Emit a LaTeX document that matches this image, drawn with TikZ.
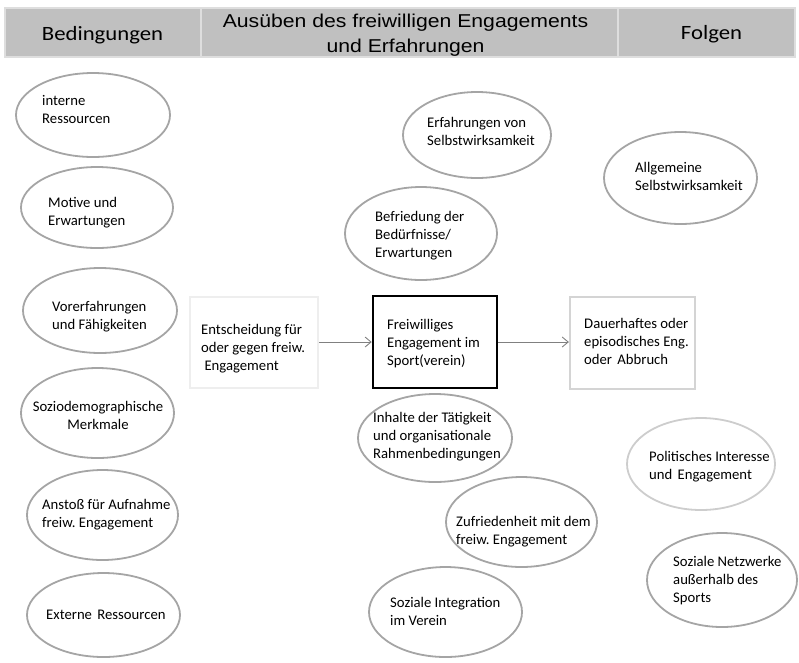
\documentclass[tikz,border=0pt]{standalone}
\usepackage{fontspec}
\setmainfont{Carlito}
\newfontfamily\arialf{Liberation Sans}
\usetikzlibrary{arrows.meta,shapes.geometric}
\frenchspacing
\definecolor{hdrfill}{RGB}{192,192,192}
\definecolor{hdrline}{RGB}{222,222,222}
\definecolor{ellline}{RGB}{165,165,165}
\definecolor{elllight}{RGB}{205,205,205}
\definecolor{boxlight}{RGB}{238,238,238}
\definecolor{boxmid}{RGB}{212,212,212}
\definecolor{arrcol}{RGB}{128,128,128}
\newcommand{\txl}[1]{\begin{tabular}[t]{@{}l@{}}#1\end{tabular}}
\newcommand{\txc}[1]{\begin{tabular}[t]{@{}c@{}}#1\end{tabular}}
\tikzset{
  ell/.style={ellipse, draw=ellline, line width=1.8pt, inner sep=0pt},
  lbl/.style={inner sep=0pt, anchor=base west, font=\fontsize{14.7}{18}\selectfont},
  hdr/.style={inner sep=0pt, anchor=base},
  conn/.style={draw=arrcol, line width=0.9pt, -{Straight Barb[length=6pt,width=10pt,line width=0.9pt]}}
}
\newcommand{\ellnode}[6][ellline]{%
  \node[ell, draw=#1, minimum width=#5*2pt, minimum height=#6*2pt] (#2) at (#3,#4) {};}
\begin{document}
\begin{tikzpicture}[x=1pt,y=-1pt]
\useasboundingbox (0,0) rectangle (799,662);
% header
\node[draw=hdrline, fill=hdrfill, line width=2pt, minimum width=790pt, minimum height=49pt, inner sep=0pt] (hdr) at (400,32.5) {};
\coordinate (d1t) at (201,9); \coordinate (d1b) at (201,56);
\coordinate (d2t) at (618,9); \coordinate (d2b) at (618,56);
\draw[hdrline, line width=2.5pt] (d1t) -- (d1b);
\draw[hdrline, line width=2.5pt] (d2t) -- (d2b);
\node[hdr] (hb) at (102.5,40) {\scalebox{1.12}[1]{\fontsize{20.3}{24}\selectfont Bedingungen}};
\node[hdr] (hm) at (405.5,27) {\scalebox{1.14}[1]{\fontsize{18.6}{25}\selectfont\arialf\txc{Ausüben des freiwilligen Engagements\\ und Erfahrungen}}};
\node[hdr] (hf) at (711.5,39) {\scalebox{1.12}[1]{\fontsize{20.3}{24}\selectfont Folgen}};
% left column ellipses
\ellnode{e1}{93}{115}{77}{42}
\ellnode{e2}{97}{207.5}{76}{40.5}
\ellnode{e3}{100}{310.5}{77}{42.5}
\ellnode{e4}{97.5}{413}{76.5}{45}
\ellnode{e5}{102.5}{515}{75.5}{45}
\ellnode{e6}{103.5}{615}{76.5}{42}
\node[lbl] (t1) at (42,105) {\txl{interne\\Ressourcen}};
\node[lbl] (t2) at (48,207) {\txl{Motive und\\Erwartungen}};
\node[lbl] (t3) at (52,311) {\txl{Vorerfahrungen\\und Fähigkeiten}};
\node[lbl, anchor=base] (t4) at (98,411) {\txc{Soziodemographische\\Merkmale}};
\node[lbl] (t5) at (42,509) {\txl{Anstoß für Aufnahme\\freiw. Engagement}};
\node[lbl] (t6) at (46,619) {Externe\hspace{2pt} Ressourcen};
% middle ellipses
\ellnode{e7}{477}{135}{74}{43}
\ellnode{e8}{421}{233.5}{76}{46.5}
\ellnode{e9}{435}{438}{77}{44}
\ellnode{e10}{521.5}{522}{75.5}{45}
\ellnode{e11}{445.5}{612}{76.5}{45}
\node[lbl] (t7) at (427,127) {\txl{Erfahrungen von\\Selbstwirksamkeit}};
\node[lbl] (t8) at (375,221) {\txl{Befriedung der\\Bedürfnisse/\\Erwartungen}};
\node[lbl] (t9) at (373,422) {\txl{Inhalte der Tätigkeit\\und organisationale\\Rahmenbedingungen}};
\node[lbl] (t10) at (456,526) {\txl{Zufriedenheit mit dem\\freiw. Engagement}};
\node[lbl] (t11) at (390,607) {\txl{Soziale Integration\\im Verein}};
% right ellipses
\ellnode{e12}{680.5}{178}{76.5}{46}
\ellnode[elllight]{e13}{701}{464}{74}{46}
\ellnode{e14}{722}{580}{75}{47}
\node[lbl] (t12) at (635,172) {\txl{Allgemeine\\Selbstwirksamkeit}};
\node[lbl] (t13) at (649,461) {\txl{Politisches Interesse\\und\hspace{2pt} Engagement}};
\node[lbl] (t14) at (673,566) {\txl{Soziale Netzwerke\\außerhalb des\\Sports}};
% boxes
\node[draw=boxlight, line width=2.5pt, minimum width=128pt, minimum height=91pt, inner sep=0pt] (ent) at (254,342.5) {};
\node[draw=black, line width=2.5pt, minimum width=124pt, minimum height=92pt, inner sep=0pt] (fre) at (435,342) {};
\node[draw=boxmid, line width=2.2pt, minimum width=125pt, minimum height=92pt, inner sep=0pt] (dau) at (632.5,343) {};
\node[lbl] (tent) at (201,334) {\txl{Entscheidung für\\oder gegen freiw.\\\ Engagement}};
\node[lbl] (tfre) at (387,329) {\txl{Freiwilliges\\Engagement im\\Sport(verein)}};
\node[lbl] (tdau) at (584,328) {\txl{Dauerhaftes oder\\episodisches Eng.\\oder\hspace{2pt} Abbruch}};
% arrows
\draw[conn] (ent.east |- 0,342) -- (fre.west |- 0,342);
\draw[conn] (fre.east |- 0,342) -- (dau.west |- 0,342);
\end{tikzpicture}
\end{document}
